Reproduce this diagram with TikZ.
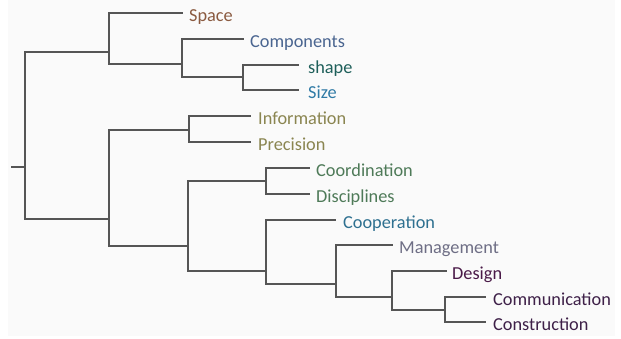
\documentclass[tikz,border=0pt]{standalone}
\usepackage{fontspec}
\setmainfont{Carlito}
\definecolor{cSpace}{HTML}{8A5A40}
\definecolor{cComp}{HTML}{4A6590}
\definecolor{cShape}{HTML}{1E5F5A}
\definecolor{cSize}{HTML}{2F7AA5}
\definecolor{cInfo}{HTML}{8A8550}
\definecolor{cCoord}{HTML}{4E7A58}
\definecolor{cCoop}{HTML}{2E7090}
\definecolor{cMan}{HTML}{6E6E85}
\definecolor{cDes}{HTML}{4A1A48}
\definecolor{cComm}{HTML}{3E2048}
\definecolor{cLine}{HTML}{555555}
\definecolor{cPanel}{HTML}{FAFAFA}
\begin{document}
\begin{tikzpicture}[x=1pt,y=-1pt,
  lab/.style={anchor=base west,inner sep=0pt,font=\fontsize{18.3}{20}\selectfont},
  link/.style={draw=cLine,line width=1.8pt,line cap=rect}]
\useasboundingbox (0,0) rectangle (621,338);
\fill[white] (0,0) rectangle (621,338);
\fill[cPanel] (8,0) rectangle (615,336);
% junctions
\coordinate (s) at (12,167);
\coordinate (R) at (25,167);
\coordinate (A) at (109,52);
\coordinate (B) at (182,64);
\coordinate (C) at (243,77);
\coordinate (D) at (109,219);
\coordinate (E) at (189,130);
\coordinate (F) at (188,246);
\coordinate (G) at (266,181);
\coordinate (H) at (266,271);
\coordinate (I) at (336,284);
\coordinate (J) at (392,297);
\coordinate (K) at (445,310);
% leaf line ends
\coordinate (eSpace) at (182,13);
\coordinate (eComp) at (243,39);
\coordinate (eShape) at (298,65);
\coordinate (eSize) at (298,90);
\coordinate (eInfo) at (250,116);
\coordinate (ePrec) at (250,142);
\coordinate (eCoord) at (309,168);
\coordinate (eDisc) at (309,194);
\coordinate (eCoop) at (335,220);
\coordinate (eMan) at (392,245);
\coordinate (eDes) at (446,271);
\coordinate (eComm) at (485,297);
\coordinate (eCons) at (485,322);
% labels
\node[lab,text=cSpace] (Space) at (189,21) {Space};
\node[lab,text=cComp] (Comp) at (250,47) {Components};
\node[lab,text=cShape] (Shape) at (308,73) {shape};
\node[lab,text=cSize] (Size) at (308,98) {Size};
\node[lab,text=cInfo] (Info) at (258,124) {Information};
\node[lab,text=cInfo] (Prec) at (258,150) {Precision};
\node[lab,text=cCoord] (Coord) at (316,176) {Coordination};
\node[lab,text=cCoord] (Disc) at (316,202) {Disciplines};
\node[lab,text=cCoop] (Coop) at (343,228) {Cooperation};
\node[lab,text=cMan] (Man) at (399,253) {Management};
\node[lab,text=cDes] (Des) at (452,279) {Design};
\node[lab,text=cComm] (Comm) at (493,305) {Communication};
\node[lab,text=cComm] (Cons) at (493,330) {Construction};
% links
\draw[link] (s) -- (R);
\draw[link] (R) |- (A);
\draw[link] (R) |- (D);
\draw[link] (A) |- (eSpace);
\draw[link] (A) |- (B);
\draw[link] (B) |- (eComp);
\draw[link] (B) |- (C);
\draw[link] (C) |- (eShape);
\draw[link] (C) |- (eSize);
\draw[link] (D) |- (E);
\draw[link] (D) |- (F);
\draw[link] (E) |- (eInfo);
\draw[link] (E) |- (ePrec);
\draw[link] (F) |- (G);
\draw[link] (F) |- (H);
\draw[link] (G) |- (eCoord);
\draw[link] (G) |- (eDisc);
\draw[link] (H) |- (eCoop);
\draw[link] (H) |- (I);
\draw[link] (I) |- (eMan);
\draw[link] (I) |- (J);
\draw[link] (J) |- (eDes);
\draw[link] (J) |- (K);
\draw[link] (K) |- (eComm);
\draw[link] (K) |- (eCons);
\end{tikzpicture}
\end{document}
